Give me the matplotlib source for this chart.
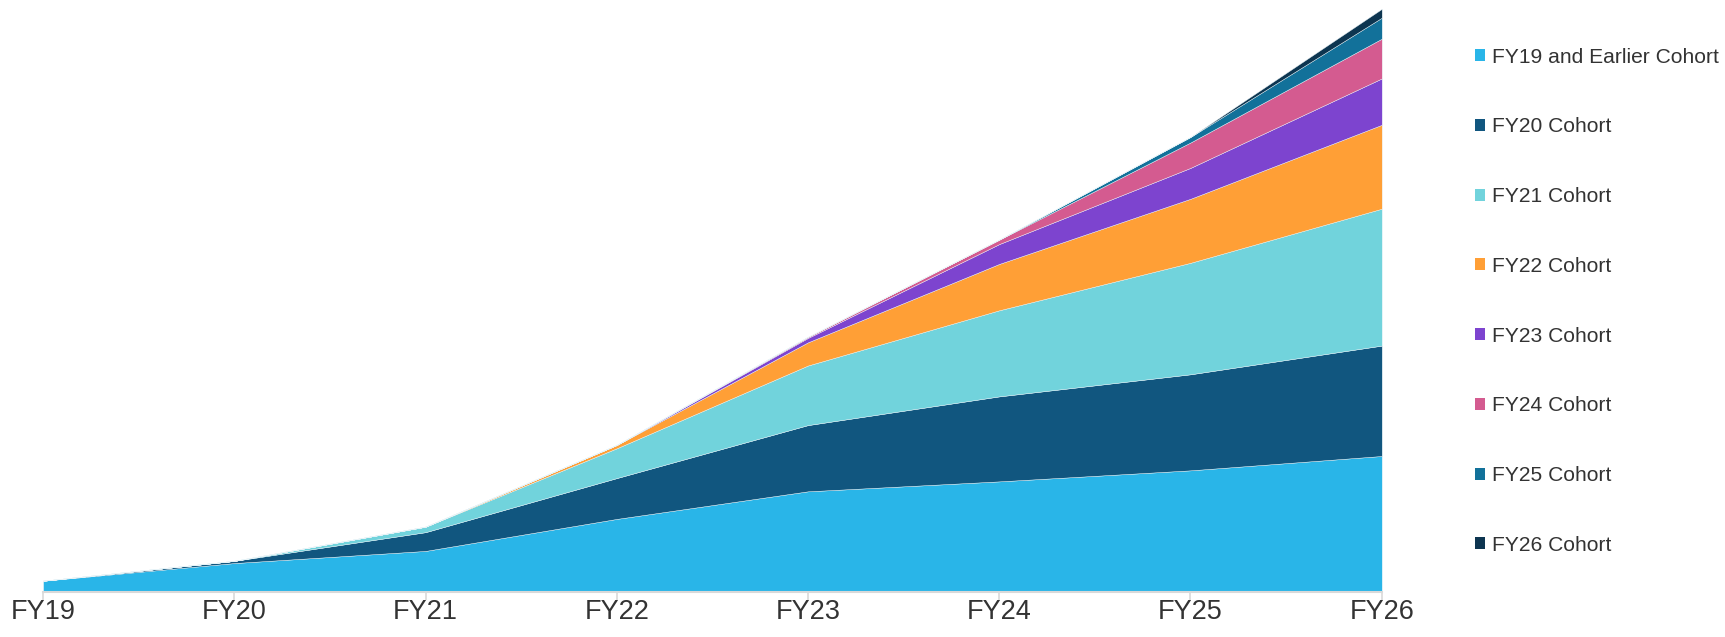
import matplotlib.pyplot as plt
from matplotlib.patches import Patch

plt.rcParams['font.family'] = ['Liberation Sans', 'DejaVu Sans']

years = ['FY19', 'FY20', 'FY21', 'FY22', 'FY23', 'FY24', 'FY25', 'FY26']
cohorts = ['FY19 and Earlier Cohort', 'FY20 Cohort', 'FY21 Cohort', 'FY22 Cohort',
           'FY23 Cohort', 'FY24 Cohort', 'FY25 Cohort', 'FY26 Cohort']

# revenue by cohort, one row per cohort, one value per fiscal year
fy19_earlier = [10, 26, 37, 66, 91, 100, 110, 123]
fy20 = [0, 2, 17, 37, 60, 77, 87, 100]
fy21 = [0, 0, 5, 27, 54, 78, 101, 124]
fy22 = [0, 0, 0, 3, 21, 42, 58, 76]
fy23 = [0, 0, 0, 0, 4, 18, 28, 42]
fy24 = [0, 0, 0, 0, 1, 4, 23, 36]
fy25 = [0, 0, 0, 0, 0, 0, 5, 19]
fy26 = [0, 0, 0, 0, 0, 0, 0, 8]

colors = ['#29B5E8', '#11567F', '#71D3DC', '#FF9F36',
          '#7D44CF', '#D45B90', '#12719A', '#0D3550']

fig = plt.figure(figsize=(17.25, 6.37), dpi=100)
ax = fig.add_axes([0.025, 0.071, 0.776, 0.915])

x = range(len(years))
series = [fy19_earlier, fy20, fy21, fy22, fy23, fy24, fy25, fy26]
ax.stackplot(x, *series, colors=colors, edgecolor='#e8f4f8', linewidth=0.3)

total = [sum(v) for v in zip(*series)]
ax.set_xlim(0, len(years) - 1)
ax.set_ylim(0, max(total))

ax.set_xticks(list(x))
ax.set_xticklabels(years, fontsize=19.5, color='#333333')
ax.tick_params(axis='x', length=6, width=1.2, color='#d9d9d9', pad=-1)
ax.set_yticks([])
for side in ['top', 'right', 'left']:
    ax.spines[side].set_visible(False)
ax.spines['bottom'].set_color('#d9d9d9')
ax.spines['bottom'].set_linewidth(1.5)

handles = [Patch(facecolor=c, edgecolor='none') for c in colors]
fig.legend(handles, cohorts, loc='upper left', bbox_to_anchor=(0.844, 0.955),
           frameon=False, fontsize=15.1, handlelength=0.5, handleheight=0.5,
           handletextpad=0.3, labelspacing=2.42, labelcolor='#333333')

fig.savefig('out.png', dpi=100)
